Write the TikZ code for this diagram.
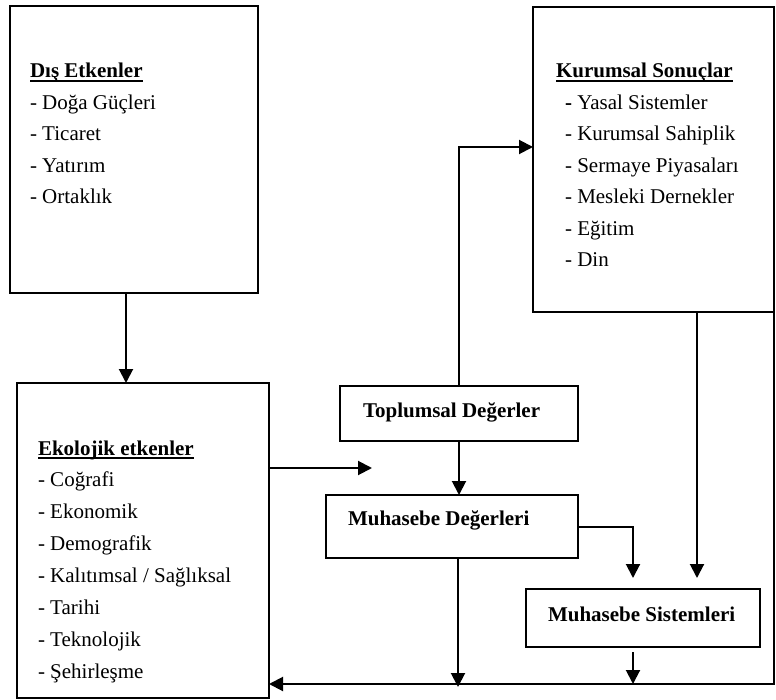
\documentclass[tikz,border=0pt]{standalone}
\usepackage{fontspec}
\setmainfont{Liberation Serif}
\usetikzlibrary{arrows.meta}

\newcommand{\baslik}[1]{\setbox0=\hbox{\textbf{#1}}\copy0\llap{\rule[-3.8pt]{\wd0}{1.6pt}}}

\begin{document}
\begin{tikzpicture}[x=1pt,y=-1pt,>={Triangle[length=14pt,width=14pt]},line width=2pt,
    font=\fontsize{21}{31.5}\selectfont,
    box/.style={draw,rectangle,inner sep=0pt,outer sep=0pt},
    title/.style={anchor=base west,inner sep=0pt,font=\fontsize{21}{31.5}\selectfont\bfseries},
    list/.style={anchor=base west,inner sep=0pt}]
  \useasboundingbox (0,0) rectangle (776,700);

  \node[box,minimum width=248pt,minimum height=287pt] (dis)  at (134,149.5) {};
  \node[box,minimum width=252pt,minimum height=315pt] (eko)  at (143,540.5) {};
  \node[box,minimum width=241pt,minimum height=305pt] (kur)  at (653.5,159.5) {};
  \node[box,minimum width=238pt,minimum height=55pt]  (top)  at (459,413.5) {};
  \node[box,minimum width=252pt,minimum height=63pt]  (mdeg) at (452,526.5) {};
  \node[box,minimum width=234pt,minimum height=58pt]  (msis) at (643,618) {};

  \node[list] at ([shift={(19,72)}]dis.north west) {\begin{tabular}[t]{@{}l@{}}
    \baslik{Dış Etkenler}\\ - Doğa Güçleri\\ - Ticaret\\ - Yatırım\\ - Ortaklık
  \end{tabular}};
  \node[list,font=\fontsize{21}{31.86}\selectfont] at ([shift={(20,72)}]eko.north west) {\begin{tabular}[t]{@{}l@{}}
    \baslik{Ekolojik etkenler}\\ - Coğrafi\\ - Ekonomik\\ - Demografik\\ - Kalıtımsal / Sağlıksal\\
    - Tarihi\\ - Teknolojik\\ - Şehirleşme
  \end{tabular}};
  \node[list] at ([shift={(22,71)}]kur.north west) {\begin{tabular}[t]{@{}l@{}}
    \baslik{Kurumsal Sonuçlar}\\ \hspace*{9pt}\textbf{-} Yasal Sistemler\\ \hspace*{9pt}- Kurumsal Sahiplik\\
    \hspace*{9pt}- Sermaye Piyasaları\\ \hspace*{9pt}- Mesleki Dernekler\\ \hspace*{9pt}- Eğitim\\ \hspace*{9pt}- Din
  \end{tabular}};
  \node[title] at ([shift={(22,3.5)}]top.west)  {Toplumsal Değerler};
  \node[title] at ([shift={(21,-1.5)}]mdeg.west) {Muhasebe Değerleri};
  \node[title] at ([shift={(21,3)}]msis.west)   {Muhasebe Sistemleri};

  \coordinate (ekoout) at (372,468);
  \coordinate (fb) at (774,684);

  \draw[->] ([xshift=-8pt]dis.south) -- ([xshift=-8pt]dis.south |- eko.north);
  \draw[->] (eko.east |- ekoout) -- (ekoout);
  \draw[->] (top.north) |- ([yshift=12.5pt]kur.west);
  \draw[->] (top.south) -- (top.south |- mdeg.north);
  \draw[->,shorten >=11pt] (mdeg.east) -| ([xshift=-10pt]msis.north);
  \draw[->,shorten >=11pt] ([xshift=43.5pt]kur.south) -- ([xshift=43.5pt]kur.south |- msis.north);
  \draw[->,shorten >=-3pt] ([xshift=6pt]mdeg.south) -- ([xshift=6pt]mdeg.south |- fb);
  \draw[->,shorten <=5pt] ([xshift=-10pt]msis.south) -- ([xshift=-10pt]msis.south |- fb);
  \draw[->] (kur.south east) |- (eko.east |- fb);
\end{tikzpicture}
\end{document}
